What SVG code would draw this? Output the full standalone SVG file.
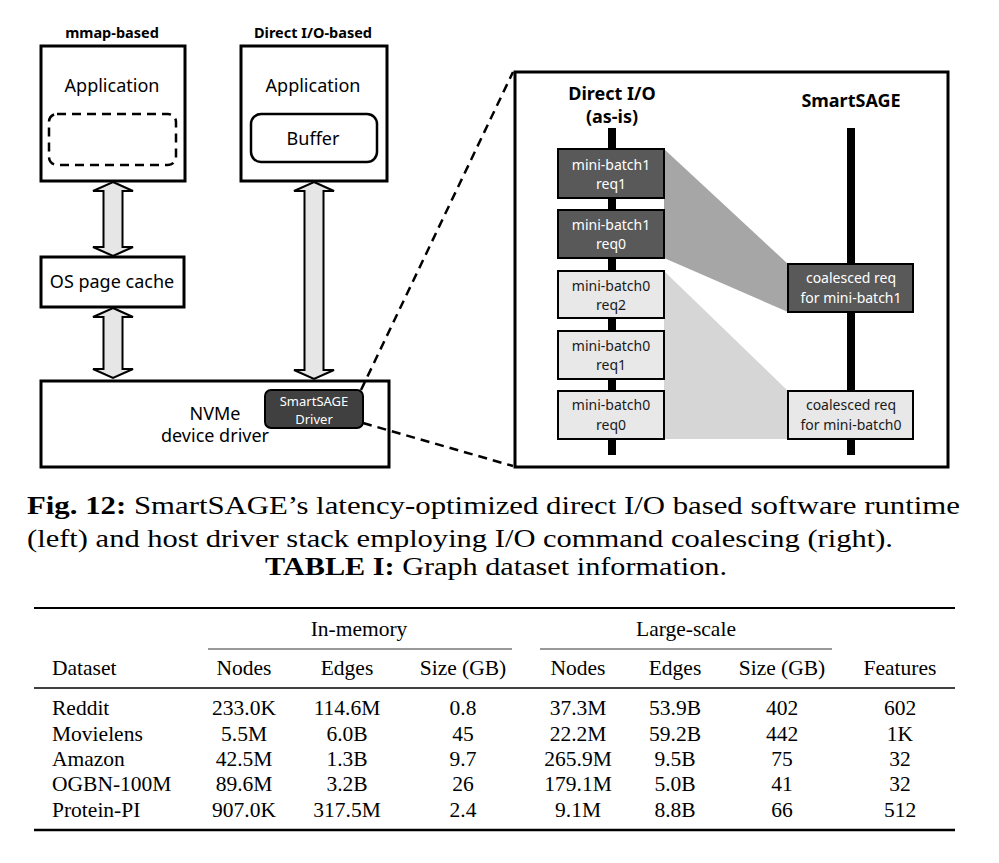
<svg xmlns="http://www.w3.org/2000/svg" width="999" height="863" viewBox="0 0 999 863">
<style>
.s{font-family:"Noto Sans","Open Sans","DejaVu Sans",sans-serif;fill:#000}
.b{font-weight:bold}
.t18{font-size:18px}
.t14{font-size:14px}
.w{fill:#fff}
.dk{fill:#1a1a1a}
.box{fill:#fff;stroke:#000;stroke-width:3}
.arr{fill:#e6e6e6;stroke:#000;stroke-width:2;stroke-linejoin:miter}
.req{stroke:#000;stroke-width:2}
.dark{fill:#595959}
.light{fill:#e8e8e8}
.bar{fill:#000}
.dash{fill:none;stroke:#000;stroke-width:2.5;stroke-dasharray:9 6}
.serif{font-family:"Liberation Serif","Times New Roman",serif;fill:#000}
.cap{font-size:25px}
.tb{font-size:21.5px}
.c{text-anchor:middle}
</style>

<!-- left headers -->
<text class="s b c" x="112" y="38" font-size="14.5">mmap-based</text>
<text class="s b c" x="313" y="38" font-size="14.5">Direct I/O-based</text>

<g id="app-mmap">
<rect class="box" x="41" y="46" width="144" height="135"/>
<text class="s t18 c" x="112" y="92">Application</text>
<rect x="49" y="114" width="127" height="51" rx="8" fill="none" stroke="#000" stroke-width="2.5" stroke-dasharray="9 6"/>
</g>

<g id="app-direct">
<rect class="box" x="241" y="46" width="146" height="135"/>
<text class="s t18 c" x="313" y="92">Application</text>
<rect x="251" y="114" width="126" height="48" rx="10" fill="#fff" stroke="#000" stroke-width="2.5"/>
<text class="s t18 c" x="313" y="145">Buffer</text>
</g>

<g id="os-page-cache">
<rect class="box" x="41" y="257" width="143" height="50"/>
<text class="s t18 c" x="112" y="288">OS page cache</text>
</g>

<g id="nvme-driver">
<rect class="box" x="41" y="381" width="348" height="86"/>
<text class="s t18 c" x="215" y="420">NVMe</text>
<text class="s t18 c" x="215" y="442">device driver</text>
</g>

<g id="smartsage-driver">
<rect x="265" y="390" width="98" height="38" rx="6" fill="#404040" stroke="#000" stroke-width="2"/>
<text class="s c w" font-size="13" x="314" y="406">SmartSAGE</text>
<text class="s c w" font-size="13" x="314" y="424">Driver</text>
</g>

<g id="connectors">
<polygon class="arr" points="113,182 133,191 122.5,191 122.5,247 133,247 113,256 93,247 103.5,247 103.5,191 93,191"/>
<polygon class="arr" points="113,308 133,317 122.5,317 122.5,369 133,369 113,378 93,369 103.5,369 103.5,317 93,317"/>
<polygon class="arr" points="314,182 334,191 323.5,191 323.5,370 334,370 314,379 294,370 304.5,370 304.5,191 294,191"/>
<line class="dash" x1="361" y1="390" x2="513" y2="72"/>
<line class="dash" x1="363" y1="423" x2="513" y2="466"/>
</g>

<!-- right panel -->
<g id="coalescing-panel">
<rect x="515" y="72" width="433" height="395" fill="#fff" stroke="#000" stroke-width="3"/>
<text class="s b t18 c" x="612" y="100">Direct I/O</text>
<text class="s b t18 c" x="612" y="123">(as-is)</text>
<text class="s b t18 c" x="851" y="107">SmartSAGE</text>
<polygon points="664,149 788,264 788,312 664,258" fill="#a6a6a6"/>
<polygon points="664,271 788,391 788,439 664,439" fill="#d6d6d6"/>
<rect class="bar" x="608" y="128" width="8" height="327"/>
<rect class="bar" x="847" y="128" width="8" height="327"/>
</g>

<g id="mb1-req1">
<rect class="req dark" x="558" y="149" width="106" height="49"/>
<text class="s t14 c w" x="611" y="170">mini-batch1</text>
<text class="s t14 c w" x="611" y="189">req1</text>
</g>
<g id="mb1-req0">
<rect class="req dark" x="558" y="210" width="106" height="48"/>
<text class="s t14 c w" x="611" y="230">mini-batch1</text>
<text class="s t14 c w" x="611" y="249">req0</text>
</g>
<g id="mb0-req2">
<rect class="req light" x="558" y="271" width="106" height="47"/>
<text class="s t14 c dk" x="611" y="291">mini-batch0</text>
<text class="s t14 c dk" x="611" y="310">req2</text>
</g>
<g id="mb0-req1">
<rect class="req light" x="558" y="331" width="106" height="48"/>
<text class="s t14 c dk" x="611" y="351">mini-batch0</text>
<text class="s t14 c dk" x="611" y="370">req1</text>
</g>
<g id="mb0-req0">
<rect class="req light" x="558" y="391" width="106" height="48"/>
<text class="s t14 c dk" x="611" y="410">mini-batch0</text>
<text class="s t14 c dk" x="611" y="430">req0</text>
</g>
<g id="coalesced-mb1">
<rect class="req dark" x="788" y="264" width="125" height="48"/>
<text class="s t14 c w" x="851" y="283">coalesced req</text>
<text class="s t14 c w" x="851" y="303">for mini-batch1</text>
</g>
<g id="coalesced-mb0">
<rect class="req light" x="788" y="391" width="125" height="48"/>
<text class="s t14 c dk" x="851" y="410">coalesced req</text>
<text class="s t14 c dk" x="851" y="430">for mini-batch0</text>
</g>

<!-- caption -->
<text class="serif cap" x="27" y="514" textLength="933" lengthAdjust="spacingAndGlyphs"><tspan font-weight="bold">Fig. 12:</tspan> SmartSAGE’s latency-optimized direct I/O based software runtime</text>
<text class="serif cap" x="27" y="547" textLength="866" lengthAdjust="spacingAndGlyphs">(left) and host driver stack employing I/O command coalescing (right).</text>
<text class="serif cap" x="265" y="575" textLength="462" lengthAdjust="spacingAndGlyphs"><tspan font-weight="bold">TABLE I:</tspan> Graph dataset information.</text>

<!-- table -->
<g id="table">
<line x1="34" y1="608" x2="955" y2="608" stroke="#000" stroke-width="2"/>
<line x1="208" y1="649" x2="512" y2="649" stroke="#777" stroke-width="1.5"/>
<line x1="540" y1="649" x2="832" y2="649" stroke="#777" stroke-width="1.5"/>
<line x1="34" y1="688" x2="955" y2="688" stroke="#000" stroke-width="1.5"/>
<line x1="34" y1="830" x2="955" y2="830" stroke="#000" stroke-width="2.5"/>
<g class="serif tb">
<text class="c" x="359" y="636">In-memory</text>
<text class="c" x="686" y="636">Large-scale</text>
<text x="52" y="675">Dataset</text>
<text class="c" x="244" y="675">Nodes</text>
<text class="c" x="347" y="675">Edges</text>
<text class="c" x="463" y="675">Size (GB)</text>
<text class="c" x="578" y="675">Nodes</text>
<text class="c" x="675" y="675">Edges</text>
<text class="c" x="782" y="675">Size (GB)</text>
<text class="c" x="900" y="675">Features</text>

<text x="52" y="715">Reddit</text>
<text class="c" x="244" y="715">233.0K</text>
<text class="c" x="347" y="715">114.6M</text>
<text class="c" x="463" y="715">0.8</text>
<text class="c" x="578" y="715">37.3M</text>
<text class="c" x="675" y="715">53.9B</text>
<text class="c" x="782" y="715">402</text>
<text class="c" x="900" y="715">602</text>

<text x="52" y="741">Movielens</text>
<text class="c" x="244" y="741">5.5M</text>
<text class="c" x="347" y="741">6.0B</text>
<text class="c" x="463" y="741">45</text>
<text class="c" x="578" y="741">22.2M</text>
<text class="c" x="675" y="741">59.2B</text>
<text class="c" x="782" y="741">442</text>
<text class="c" x="900" y="741">1K</text>

<text x="52" y="766">Amazon</text>
<text class="c" x="244" y="766">42.5M</text>
<text class="c" x="347" y="766">1.3B</text>
<text class="c" x="463" y="766">9.7</text>
<text class="c" x="578" y="766">265.9M</text>
<text class="c" x="675" y="766">9.5B</text>
<text class="c" x="782" y="766">75</text>
<text class="c" x="900" y="766">32</text>

<text x="52" y="791">OGBN-100M</text>
<text class="c" x="244" y="791">89.6M</text>
<text class="c" x="347" y="791">3.2B</text>
<text class="c" x="463" y="791">26</text>
<text class="c" x="578" y="791">179.1M</text>
<text class="c" x="675" y="791">5.0B</text>
<text class="c" x="782" y="791">41</text>
<text class="c" x="900" y="791">32</text>

<text x="52" y="817">Protein-PI</text>
<text class="c" x="244" y="817">907.0K</text>
<text class="c" x="347" y="817">317.5M</text>
<text class="c" x="463" y="817">2.4</text>
<text class="c" x="578" y="817">9.1M</text>
<text class="c" x="675" y="817">8.8B</text>
<text class="c" x="782" y="817">66</text>
<text class="c" x="900" y="817">512</text>
</g>
</g>
</svg>
